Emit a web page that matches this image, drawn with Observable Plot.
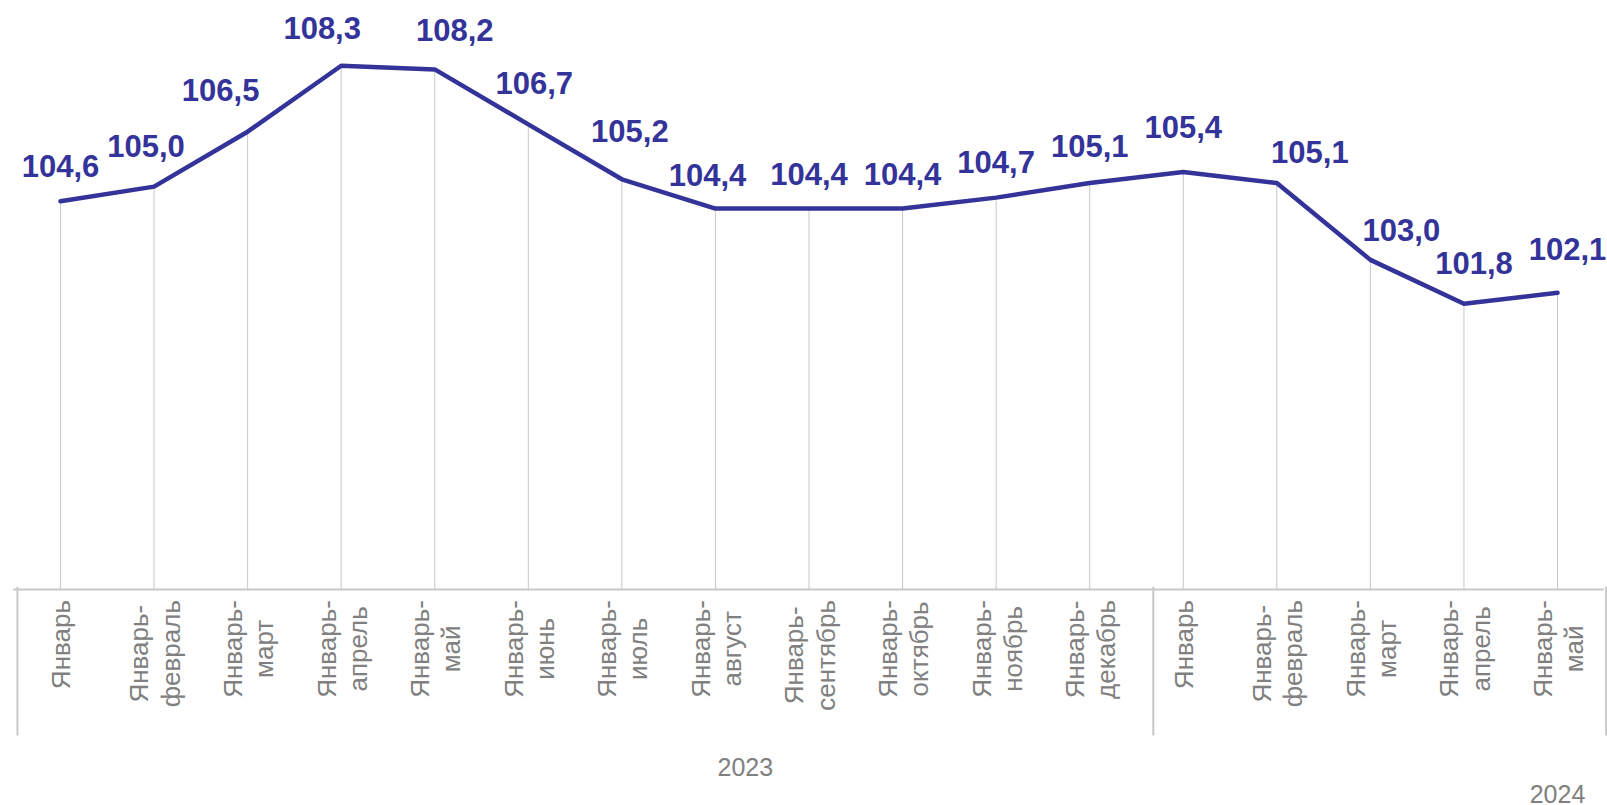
<!DOCTYPE html>
<html>
<head>
<meta charset="utf-8">
<script src="https://cdn.jsdelivr.net/npm/d3@7"></script>
<script src="https://cdn.jsdelivr.net/npm/@observablehq/plot@0.6"></script>
<style>
  html, body { margin: 0; padding: 0; background: #ffffff; }
  #chart svg { display: block; }
</style>
</head>
<body>
<div id="chart"></div>
<script>
// ---- data ----
const periods = [
  "Январь", "Январь-\nфевраль", "Январь-\nмарт", "Январь-\nапрель", "Январь-\nмай",
  "Январь-\nиюнь", "Январь-\nиюль", "Январь-\nавгуст", "Январь-\nсентябрь",
  "Январь-\nоктябрь", "Январь-\nноябрь", "Январь-\nдекабрь",
  "Январь", "Январь-\nфевраль", "Январь-\nмарт", "Январь-\nапрель", "Январь-\nмай"
];
const years = ["2023", "2024"];
const periodsPerYear = [12, 5];
const values = [104.6, 105.0, 106.5, 108.3, 108.2, 106.7, 105.2, 104.4, 104.4, 104.4, 104.7, 105.1,
                105.4, 105.1, 103.0, 101.8, 102.1];

// ---- layout / style (not data) ----
const labelNudge = [
  [0, -34], [-8, -40], [-27, -41], [-19, -37], [20, -38], [6, -40], [8, -47], [-8, -33],
  [0, -34], [0, -34], [0, -35], [0, -36], [0, -44], [33, -30], [31, -29], [10, -40], [10, -43]
];
const yearLabelPos = [{x: 7.32, dy: 178}, {x: 16, dy: 205}];
const separatorPos = [-0.46, 11.68, 16.52];

const lineColor = "#333399";
const gridColor = "#c8c8c8";
const textGray = "#808080";
const font = "'Liberation Sans', Arial, sans-serif";

// ---- build table ----
const yearOf = [];
years.forEach((y, k) => { for (let j = 0; j < periodsPerYear[k]; j++) yearOf.push(y); });
const table = values.map((v, i) => ({
  i,
  period: periods[i],
  year: yearOf[i],
  value: v,
  label: v.toFixed(1).replace(".", ",")
}));
const yearRows = years.map((y, k) => ({year: y, x: yearLabelPos[k].x, k}));

const yMin = 94, yMax = 110;

const labelMarks = table.map((d, i) => Plot.text([d], {
  x: "i", y: "value", text: "label",
  dx: labelNudge[i][0], dy: labelNudge[i][1],
  fontSize: 31, fontWeight: "bold", fill: lineColor, lineAnchor: "middle"
}));

const yearMarks = yearRows.map((d, k) => Plot.text([d], {
  x: "x", text: "year", frameAnchor: "bottom", dy: yearLabelPos[k].dy,
  fontSize: 25, fill: textGray, lineAnchor: "middle"
}));

const chart = Plot.plot({
  width: 1607,
  height: 805,
  marginTop: 3,
  marginBottom: 216,
  marginLeft: 13.2,
  marginRight: 3.2,
  style: {fontFamily: font, background: "#ffffff", overflow: "visible"},
  x: {type: "linear", domain: [-0.5, 16.5], axis: null},
  y: {domain: [yMin, yMax], axis: null},
  marks: [
    Plot.ruleX(table, {x: "i", y1: yMin, y2: "value", stroke: gridColor, strokeWidth: 1}),
    Plot.ruleY([yMin], {stroke: gridColor, strokeWidth: 2.2}),
    Plot.ruleX(separatorPos, {x: d => d, y1: yMin + 0.06, y2: yMin - 4, stroke: gridColor, strokeWidth: 2}),
    Plot.line(table, {x: "i", y: "value", stroke: lineColor, strokeWidth: 4.5,
      strokeLinejoin: "round", strokeLinecap: "round"}),
    ...labelMarks,
    Plot.text(table, {
      x: "i", text: "period", frameAnchor: "bottom", dy: 60, rotate: -90,
      textAnchor: "middle", lineAnchor: "middle", lineHeight: 1.2,
      fontSize: 26, fill: textGray, className: "ticklab"
    }),
    ...yearMarks
  ]
});

document.getElementById("chart").appendChild(chart);

// align rotated category labels so their upper end sits just below the axis
const svgTop = chart.getBoundingClientRect().top;
const targetTop = 600;
chart.querySelectorAll("g.ticklab text").forEach(t => {
  const r = t.getBoundingClientRect();
  const d = targetTop - (r.top - svgTop);
  const tr = t.getAttribute("transform") || "";
  t.setAttribute("transform", tr + ` translate(${-d},0)`);
});
</script>
</body>
</html>
